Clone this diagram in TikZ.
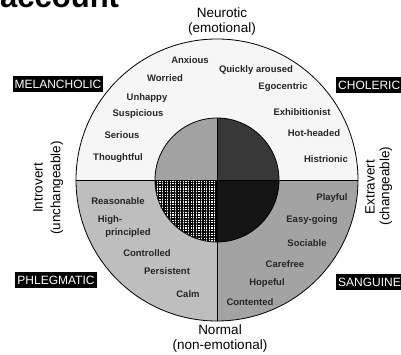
\documentclass[tikz,border=0pt]{standalone}
\usepackage{fontspec}
\setmainfont{Liberation Sans}
\usetikzlibrary{positioning,patterns.meta}
\definecolor{outerup}{HTML}{F6F6F6}
\definecolor{outerll}{HTML}{BEBEBE}
\definecolor{outerlr}{HTML}{A3A3A3}
\definecolor{innerul}{HTML}{A2A2A2}
\definecolor{innerur}{HTML}{383838}
\definecolor{innerlr}{HTML}{141414}
\begin{document}
\begin{tikzpicture}[x=1pt,y=1pt]
\tikzstyle{trait}=[font=\fontsize{9.5}{10}\selectfont\bfseries,inner sep=0pt,text=black!85]
\tikzstyle{axis}=[font=\fontsize{13.5}{15}\selectfont,inner sep=0pt,align=center]
\tikzstyle{temper}=[fill=black,text=white,font=\fontsize{12}{12}\selectfont,
  inner xsep=2pt,minimum height=15pt]
\useasboundingbox (0,0) rectangle (401,354);
\coordinate (c) at (217,174);
% outer ring: upper half and the two lower quarters
\fill[outerup] (c) ++(-141,0) arc (180:0:141) -- cycle;
\fill[outerll] (c) -- ++(-141,0) arc (180:270:141) -- cycle;
\fill[outerlr] (c) -- ++(0,-141) arc (270:360:141) -- cycle;
% inner disc, one quarter per temperament
\fill[innerul] (c) -- ++(0,62) arc (90:180:62) -- cycle;
\fill[innerur] (c) -- ++(62,0) arc (0:90:62) -- cycle;
\fill[white] (c) -- ++(-62,0) arc (180:270:62) -- cycle;
\path[pattern={Lines[distance=2.6pt,line width=1.4pt]}]
  (c) -- ++(-62,0) arc (180:270:62) -- cycle;
\path[pattern={Lines[angle=90,distance=2.6pt,line width=1.4pt]}]
  (c) -- ++(-62,0) arc (180:270:62) -- cycle;
\fill[innerlr] (c) -- ++(0,-62) arc (270:360:62) -- cycle;
\draw[line width=0.8pt] (c) circle (141);
\draw[line width=0.8pt] (c) circle (62);
\draw[line width=0.8pt] (c) ++(-141,0) -- ++(282,0);
\draw[line width=0.8pt] (c) ++(0,62) -- ++(0,-203);
% heading, cut by the page edge
\node (title) [anchor=base west,inner sep=0pt,font=\fontsize{31}{31}\selectfont\bfseries]
  at (0,346) {account};
% axes
\node (neur) [axis] at (222,332) {Neurotic\\(emotional)};
\node (norm) [axis] at (220,15) {Normal\\(non-emotional)};
\node (intro) [axis,rotate=90] at (38,166) {Introvert};
\node (unch) [axis,rotate=90] at (57,166) {(unchangeable)};
\node (extra) [axis,rotate=90] at (370,167) {Extravert};
\node (chng) [axis,rotate=90] at (386,168) {(changeable)};
% temperaments
\node (mel) [temper] at (58,270) {MELANCHOLIC};
\node (chol) [temper,anchor=west] at (336,269) {CHOLERIC};
\node (phl) [temper] at (56,74) {PHLEGMATIC};
\node (sang) [temper,anchor=west] at (336,72) {SANGUINE};
% melancholic traits
\node (anx) [trait] at (190,294) {Anxious};
\node (wor) [trait] at (165,276) {Worried};
\node (unh) [trait] at (147,256) {Unhappy};
\node (sus) [trait] at (138,240) {Suspicious};
\node (ser) [trait] at (122,219) {Serious};
\node (tho) [trait] at (118,196) {Thoughtful};
% choleric traits
\node (qui) [trait] at (256,284) {Quickly aroused};
\node (ego) [trait] at (283,267) {Egocentric};
\node (exh) [trait] at (302,242) {Exhibitionist};
\node (hot) [trait] at (314,221) {Hot-headed};
\node (his) [trait] at (326,195) {Histrionic};
% phlegmatic traits
\node (rea) [trait] at (118,153) {Reasonable};
\node (hig) [trait] at (110,134) {High-};
\node (pri) [trait] at (128,121) {principled};
\node (con) [trait] at (147,101) {Controlled};
\node (per) [trait] at (167,83) {Persistent};
\node (cal) [trait] at (188,60) {Calm};
% sanguine traits
\node (pla) [trait] at (332,156) {Playful};
\node (eas) [trait] at (312,134) {Easy-going};
\node (soc) [trait] at (307,111) {Sociable};
\node (car) [trait] at (285,90) {Carefree};
\node (hop) [trait] at (267,71) {Hopeful};
\node (cnt) [trait] at (250,52) {Contented};
\end{tikzpicture}
\end{document}
